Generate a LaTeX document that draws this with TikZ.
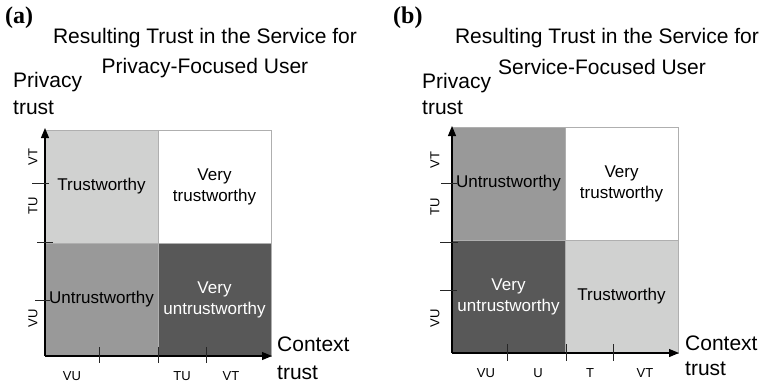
\documentclass[tikz,border=0pt]{standalone}
\usepackage{fontspec}
\setmainfont{Liberation Sans}
\newfontfamily\panelfont{Liberation Serif}
\usetikzlibrary{arrows.meta}
\definecolor{lightq}{RGB}{208,209,208}
\definecolor{midq}{RGB}{153,153,153}
\definecolor{darkq}{RGB}{88,88,88}
\definecolor{edgegray}{RGB}{175,175,175}
\begin{document}
\begin{tikzpicture}[
    x=1pt, y=-1pt,
    quad/.style={rectangle, draw=edgegray, line width=0.8pt, minimum width=113pt, minimum height=113pt,
        inner sep=0pt, align=center, font=\fontsize{17}{21}\selectfont},
    axis/.style={-{Triangle[length=10pt,width=8pt]}, line width=1.1pt},
    tickline/.style={line width=0.8pt, black!85},
    ticklbl/.style={inner sep=0pt, font=\fontsize{13}{15}\selectfont},
    title/.style={anchor=base, inner sep=0pt, font=\fontsize{21}{25}\selectfont},
    axlbl/.style={anchor=base west, inner sep=0pt, font=\fontsize{21}{25}\selectfont},
    panel/.style={anchor=base west, inner sep=0pt, font=\fontsize{24}{28}\panelfont\bfseries}
]
\useasboundingbox (0,0) rectangle (762,384);

% Panel (a)
\node[panel] (pa) at (5,23) {(a)};
\node[title] (ta1) at (205,43) {Resulting Trust in the Service for};
\node[title] (ta2) at (205,73) {Privacy-Focused User};
\node[axlbl] (pya) at (13,87) {Privacy};
\node[axlbl] (pya2) at (13,114) {trust};
\node[axlbl] (pxa) at (277,351) {Context};
\node[axlbl] (pxa2) at (277,379) {trust};

\node[quad, fill=lightq] (atl) at (101.5,186.5) {Trustworthy};
\node[quad, fill=white] (atr) at (214.5,186.5) {Very\\trustworthy};
\node[quad, fill=midq] (abl) at (101.5,299.5) {Untrustworthy};
\node[quad, fill=darkq, text=white] (abr) at (214.5,299.5) {Very\\untrustworthy};

\coordinate (ao) at (45,356);
\coordinate (ax) at (272,356);
\coordinate (ay) at (45,128);
\draw[axis] (ao) -- (ax);
\draw[axis] (ao) -- (ay);

% ticks (a)
\draw[tickline] (32,183) -- (49,183);
\draw[tickline] (37,242) -- (53,242);
\draw[tickline] (35,300) -- (50,300);
\foreach \tx in {99,158,206}
    \draw[tickline] (\tx,347) -- (\tx,363);

\node[ticklbl, rotate=90] (aVT) at (33,157) {VT};
\node[ticklbl, rotate=90] (aTU) at (33,206) {TU};
\node[ticklbl, rotate=90] (aVU) at (33,318) {VU};
\node[ticklbl, anchor=base] (aVUx) at (72,380) {VU};
\node[ticklbl, anchor=base] (aTUx) at (182,380) {TU};
\node[ticklbl, anchor=base] (aVTx) at (231,380) {VT};

% Panel (b)
\node[panel] (pb) at (393,23) {(b)};
\node[title] (tb1) at (607,43) {Resulting Trust in the Service for};
\node[title] (tb2) at (602,74) {Service-Focused User};
\node[axlbl] (pyb) at (422,88) {Privacy};
\node[axlbl] (pyb2) at (422,114) {trust};
\node[axlbl] (pxb) at (685,350) {Context};
\node[axlbl] (pxb2) at (685,375) {trust};

\node[quad, fill=midq] (btl) at (508.5,183.5) {Untrustworthy};
\node[quad, fill=white] (btr) at (621.5,183.5) {Very\\trustworthy};
\node[quad, fill=darkq, text=white] (bbl) at (508.5,296.5) {Very\\untrustworthy};
\node[quad, fill=lightq] (bbr) at (621.5,296.5) {Trustworthy};

\coordinate (bo) at (452,353);
\coordinate (bx) at (679,353);
\coordinate (by) at (452,126);
\draw[axis] (bo) -- (bx);
\draw[axis] (bo) -- (by);

% ticks (b)
\draw[tickline] (441,183) -- (457,183);
\draw[tickline] (440,242) -- (458,242);
\draw[tickline] (440,290) -- (457,290);
\foreach \tx in {507,566,613}
    \draw[tickline] (\tx,344) -- (\tx,361);

\node[ticklbl, rotate=90] (bVT) at (435,160) {VT};
\node[ticklbl, rotate=90] (bTU) at (435,207) {TU};
\node[ticklbl, rotate=90] (bVU) at (435,318) {VU};
\node[ticklbl, anchor=base] (bVUx) at (486,377) {VU};
\node[ticklbl, anchor=base] (bUx) at (538,377) {U};
\node[ticklbl, anchor=base] (bTx) at (590,377) {T};
\node[ticklbl, anchor=base] (bVTx) at (645,377) {VT};
\end{tikzpicture}
\end{document}
